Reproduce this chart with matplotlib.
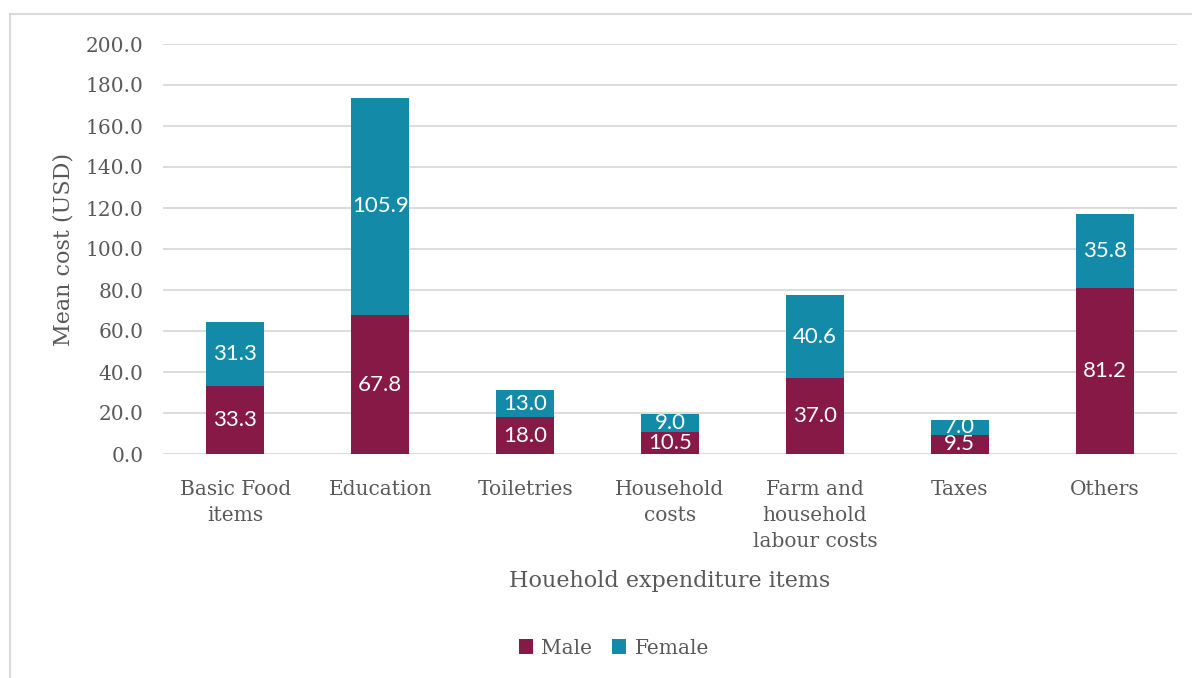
import matplotlib.pyplot as plt
from matplotlib.lines import Line2D
import numpy as np

categories = ["Basic Food\nitems", "Education", "Toiletries", "Household\ncosts",
              "Farm and\nhousehold\nlabour costs", "Taxes", "Others"]
male = [33.3, 67.8, 18.0, 10.5, 37.0, 9.5, 81.2]
female = [31.3, 105.9, 13.0, 9.0, 40.6, 7.0, 35.8]

c_male = '#871946'
c_female = '#138AA8'
grey = '#595959'
serif = ['DejaVu Serif']

fig = plt.figure(figsize=(11.92, 6.78), dpi=100)
ax = fig.add_axes([163/1192, 1-454/678, (1177-163)/1192, (454-44)/678])

x = np.arange(len(categories))
b1 = ax.bar(x, male, width=0.4, color=c_male, label='Male', zorder=3)
b2 = ax.bar(x, female, width=0.4, bottom=male, color=c_female, label='Female', zorder=3)

for bars, vals, base in [(b1, male, [0]*len(male)), (b2, female, male)]:
    for r, v, b in zip(bars, vals, base):
        ax.text(r.get_x() + r.get_width()/2, b + v/2, f"{v:.1f}", ha='center', va='center',
                color='white', fontsize=16, family='Lato', zorder=4)

ax.set_xlim(-0.5, len(categories) - 0.5)
ax.set_ylim(0, 200)
ax.set_yticks(np.arange(0, 201, 20))
ax.set_yticklabels([f"{v:.1f}" for v in np.arange(0, 201, 20)], family=serif, fontsize=14.5, color=grey)
ax.set_xticks(x)
ax.set_xticklabels(categories, family=serif, fontsize=14.5, color=grey, linespacing=1.45)
ax.tick_params(length=0)
ax.tick_params(axis='x', pad=19)
ax.tick_params(axis='y', pad=14)
ax.grid(axis='y', color='#D9D9D9', linewidth=1.3, zorder=0)
for s in ax.spines.values():
    s.set_visible(False)

ax.set_ylabel("Mean cost (USD)", family=serif, fontsize=16, color=grey, labelpad=8)
ax.set_xlabel("Houehold expenditure items", family=serif, fontsize=16, color=grey, labelpad=14)

leg = fig.legend(handles=[b1, b2], labels=['Male', 'Female'], loc='center',
                 bbox_to_anchor=(614/1192, 1-648/678), ncol=2, frameon=False,
                 prop={'family': serif, 'size': 14.5}, handlelength=0.7, handleheight=0.7,
                 columnspacing=1.0, handletextpad=0.4)
for t in leg.get_texts():
    t.set_color(grey)

# outer frame
fig.add_artist(Line2D([10/1192, 1], [1-14/678, 1-14/678], color='#D9D9D9', lw=1.5))
fig.add_artist(Line2D([10/1192, 10/1192], [0, 1-14/678], color='#D9D9D9', lw=1.5))

fig.savefig('out.png', dpi=100)
